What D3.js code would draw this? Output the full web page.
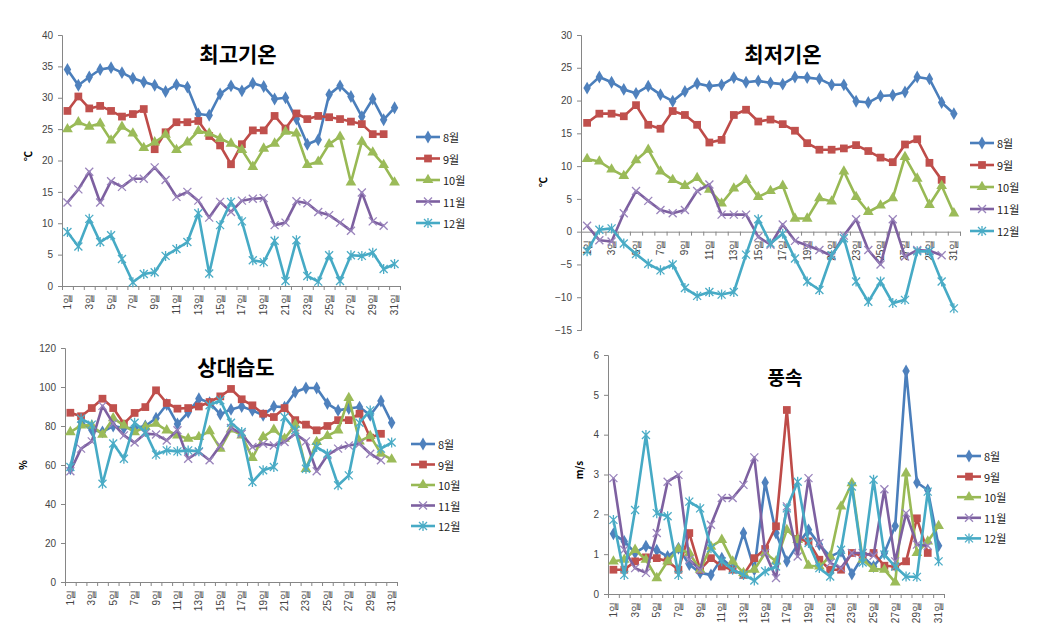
<!DOCTYPE html>
<html><head><meta charset="utf-8">
<script src="https://cdn.jsdelivr.net/npm/d3@7"></script>
<style>
body{margin:0;background:#fff;}
svg{display:block;font-family:"Noto Sans CJK KR","Noto Sans",sans-serif;}
</style></head>
<body><svg id="c" width="1039" height="636"></svg>
<script>
const days = d3.range(1, 32);
const dayLabels = days.map(d => d + "일");
const months = ["8월", "9월", "10월", "11월", "12월"];

// 최고기온
const maxAug = [34.5,32,33.3,34.5,34.8,34,33.1,32.5,32,31,32.1,31.7,27.4,27.2,30.6,31.9,31.1,32.3,31.8,29.8,30,26.6,22.6,23.3,30.5,31.9,30.2,27,29.8,26.5,28.4];
const maxSep = [27.9,30.2,28.3,28.7,27.9,27,27.4,28.2,21.8,24.5,26.1,26.1,26.3,23.9,22.4,19.4,22.6,24.8,24.8,27.1,25.1,27.5,26.6,27.1,26.9,26.6,26.2,25.8,24.2,24.2,null];
const maxOct = [25,26.1,25.4,25.9,23.2,25.4,24.3,22,22.9,24.1,21.7,22.9,24.7,24.3,23.5,22.7,21.7,19,21.9,22.7,24.6,24.3,19.3,19.8,22.6,23.8,16.5,23,21.3,19.3,16.5];
const maxNov = [13.3,15.4,18.2,13.3,16.7,15.8,17.1,17.1,18.9,16.9,14.2,15,13.6,10.9,13.4,11.8,13.6,13.9,14,9.7,10.1,13.5,13.2,11.8,11.3,10.1,8.8,14.9,10.3,9.6,null];
const maxDec = [8.6,6.3,10.7,7,8.1,4.3,0.6,1.9,2.2,4.8,5.9,7,11.6,2,9.7,13.4,10.3,4.1,3.8,7.2,0.8,7.3,1.6,0.7,4.9,0.8,4.9,4.8,5.3,2.7,3.5];

// 최저기온
const minAug = [21.9,23.6,22.8,21.7,21.1,22.2,20.9,19.9,21.4,22.6,22.2,22.4,23.5,22.8,23,22.7,22.5,23.6,23.5,23.3,22.4,22.4,19.9,19.7,20.7,20.8,21.3,23.6,23.3,19.7,18];
const minSep = [16.6,18,18,17.6,19.3,16.3,15.7,18.4,17.8,16.3,13.6,14,17.8,18.6,16.8,17.1,16.4,15.4,13.5,12.5,12.5,12.7,13.2,12.3,11.3,10.6,13.3,14.1,10.5,7.9,null];
const minOct = [11.1,10.7,9.5,8.5,10.9,12.5,9.2,7.9,7,8.2,6.4,4.3,6.6,7.9,5.3,6.2,7,2,2,5.1,4.6,9.2,5.3,3,4,5.1,11.4,8.1,4.1,7,2.8];
const minNov = [0.9,-1.3,-1.5,2.8,6.2,4.7,3.3,2.8,3.3,6.2,7.2,2.6,2.6,2.6,-0.8,-2,1.1,-1.4,-2.1,-2.8,-3.7,-0.6,1.9,-2.8,-5,1.9,-3.8,-2.8,-2.9,-3.6,null];
const minDec = [-3,0.3,0.5,-1.8,-3.4,-4.9,-5.9,-5,-8.6,-9.8,-9.2,-9.6,-9.2,-3.5,1.9,-1.8,-0.3,-4.1,-7.6,-8.9,-3.6,-1,-7.6,-10.7,-7.6,-10.9,-10.4,-3,-3,-7.6,-11.7];

// 상대습도
const humAug = [58,82,78,77,80,79,79,80,84,91,81,87,94,92,86,88.5,90,88,85.5,90,89.7,97.4,99.5,99.5,91.5,88,89,89.7,85.5,92.8,81.7];
const humSep = [86.8,85,89.2,94,89.2,81.2,86.7,89.7,98.3,91.8,88.9,89.2,90,92.3,95.2,99,93.7,90.6,86.3,84.6,89.2,83,80.7,77.8,80,83,83,86.3,74,76,null];
const humOct = [76.9,80.3,80.3,75.6,84,80.3,76.9,79.5,81.2,77.8,75.2,73.5,74.4,77.4,68.4,78.3,75.2,63.6,74.4,78.1,73.5,80.7,58,71.8,74.9,77.8,94.4,72.1,74.9,65.8,62.9];
const humNov = [56.8,68.4,72.1,90.3,81.2,75.2,71.5,76.1,75.6,72.6,77.8,63.2,66.7,62.4,70,79,76,69.2,70.9,70,71.8,76,72.1,56.8,65,68.4,70,70.9,65.8,62.4,null];
const humDec = [59,83.8,80.7,50.4,71,63.2,81.7,76.9,65.3,67.5,67,67.5,67,90.6,93.2,81.7,76.9,51.3,57.3,59,84.6,77.8,58.1,69.2,65.8,49.6,54.7,81.7,88,68.4,71.5];

// 풍속
const windAug = [1.51,1.32,1.03,1.2,1.1,0.94,1.15,0.74,0.53,0.48,0.9,0.65,1.53,0.61,2.8,1.53,0.82,1.24,1.61,1.24,0.94,1.07,0.5,0.94,0.69,1.03,1.71,5.6,2.8,2.61,1.21];
const windSep = [0.61,0.61,0.82,0.92,0.9,0.82,0.61,1.53,0.61,0.9,0.69,0.61,0.48,0.9,1.13,1.7,4.62,1.38,1.32,0.86,0.61,0.61,1.03,0.96,1.03,0.71,0.69,0.82,1.9,1.03,null];
const windOct = [0.82,0.86,1.11,0.86,0.4,0.82,1.13,1.03,0.61,1.19,1.36,0.82,0.53,0.61,1.03,0.82,1.61,1.36,0.71,0.69,0.94,2.2,2.78,0.86,0.63,0.61,0.29,3.03,1.03,1.32,1.71];
const windNov = [2.91,1.11,0.65,0.53,1.53,2.82,2.99,0.86,0.61,1.74,2.41,2.41,2.74,3.43,1.03,0.4,2.2,0.94,2.91,1.28,0.78,0.65,1.03,1.03,0.96,2.63,0.82,2.03,1.24,1.21,null];
const windDec = [1.86,0.48,2.11,3.99,2.03,1.95,0.48,2.32,2.15,1.15,0.82,0.61,0.48,0.34,0.57,0.69,2.15,2.82,1.28,0.65,0.44,1.11,2.7,0.79,2.87,0.99,0.69,0.44,0.43,2.57,0.82];

const lineColors = ["#4A7EBB", "#BE4B48", "#98B954", "#7D60A0", "#46AAC5"];
const markColors = ["#4F81BD", "#C0504D", "#9BBB59", "#9A84BC", "#4BACC6"];
const markers = ["diamond", "square", "triangle", "x", "star"];

const svg = d3.select("#c");
svg.append("rect").attr("width", 1039).attr("height", 636).attr("fill", "#fff");

function drawMarker(g, type, color, cx, cy, s) {
  s = s || 1;
  if (type === "diamond") {
    g.append("path").attr("d", d3.symbol(d3.symbolDiamond, 48 * s)()).attr("transform", `translate(${cx},${cy})`).attr("fill", color);
  } else if (type === "square") {
    g.append("path").attr("d", d3.symbol(d3.symbolSquare, 60 * s)()).attr("transform", `translate(${cx},${cy})`).attr("fill", color);
  } else if (type === "triangle") {
    g.append("path").attr("d", d3.symbol(d3.symbolTriangle, 50 * s)()).attr("transform", `translate(${cx},${cy})`).attr("fill", color);
  } else if (type === "x") {
    g.append("path").attr("d", "M-4,-4L4,4M-4,4L4,-4").attr("transform", `translate(${cx},${cy})`).attr("stroke", color).attr("stroke-width", 1.3).attr("fill", "none");
  } else {
    g.append("path").attr("d", "M-4,-4L4,4M-4,4L4,-4M0,-5L0,5").attr("transform", `translate(${cx},${cy})`).attr("stroke", color).attr("stroke-width", 1.3).attr("fill", "none");
  }
}

function panel(cfg) {
  const g = svg.append("g");
  const y = d3.scaleLinear().domain(cfg.domain).range([cfg.yBot, cfg.yTop]);
  const xb = d3.scaleBand().domain(days).range([cfg.x0, cfg.x1]).padding(0);
  const xl = d3.scaleLinear().domain([0, 31]).range([cfg.x0, cfg.x1]);
  const cx = d => xb(d) + xb.bandwidth() / 2;
  const axisY = y(cfg.xCross);

  // y axis
  const ya = g.append("g").attr("transform", `translate(${cfg.x0},0)`)
    .call(d3.axisLeft(y).tickValues(d3.range(cfg.domain[0], cfg.domain[1] + cfg.step / 2, cfg.step)).tickSize(4).tickPadding(5).tickFormat(d3.format("d")));
  ya.selectAll("line,path").attr("stroke", "#868686");
  ya.selectAll("text").attr("fill", "#444").style("font-size", "10px").style("font-family", "'Liberation Sans','DejaVu Sans',sans-serif");

  // x axis: boundary ticks
  const xa = g.append("g").attr("transform", `translate(0,${axisY})`)
    .call(d3.axisBottom(xl).tickValues(d3.range(0, 32)).tickSize(4).tickFormat(""));
  xa.selectAll("line,path").attr("stroke", "#868686");
  // x labels
  const xlab = g.append("g").attr("transform", `translate(0,${axisY})`)
    .call(d3.axisBottom(xb).tickValues(days.filter(d => d % 2 === 1)).tickSize(0).tickFormat(d => dayLabels[d - 1]));
  xlab.select(".domain").remove();
  xlab.selectAll("text").attr("transform", "rotate(-90)").attr("x", -8).attr("y", 0).attr("dy", "0.35em")
    .style("text-anchor", "end").attr("fill", "#444").style("font-size", "10px");

  // series
  cfg.series.forEach((vals, i) => {
    const pts = days.map((d, k) => ({ d, v: vals[k] })).filter(p => p.v !== null);
    const line = d3.line().x(p => cx(p.d)).y(p => y(p.v));
    g.append("path").datum(pts).attr("d", line).attr("fill", "none")
      .attr("stroke", lineColors[i]).attr("stroke-width", 2.6).attr("stroke-linejoin", "round");
    const mg = g.append("g");
    pts.forEach(p => drawMarker(mg, markers[i], markColors[i], cx(p.d), y(p.v)));
  });

  // title
  g.append("text").attr("x", cfg.title.x).attr("y", cfg.title.y).attr("text-anchor", "middle")
    .attr("dominant-baseline", "central").style("font-size", cfg.title.size + "px").style("font-weight", "bold")
    .attr("fill", "#000").text(cfg.title.text);

  // y label
  g.append("text").attr("transform", `translate(${cfg.yLabel.x},${cfg.yLabel.y}) rotate(-90)`)
    .attr("text-anchor", "middle").attr("dominant-baseline", "central")
    .style("font-size", "10px").style("font-weight", "bold").attr("fill", "#000").text(cfg.yLabel.text);

  // legend
  const lg = g.append("g");
  months.forEach((m, i) => {
    const ly = cfg.legend.y + i * cfg.legend.dy;
    lg.append("line").attr("x1", cfg.legend.x).attr("x2", cfg.legend.x + 24).attr("y1", ly).attr("y2", ly)
      .attr("stroke", lineColors[i]).attr("stroke-width", 2.6);
    drawMarker(lg, markers[i], markColors[i], cfg.legend.x + 12, ly);
    lg.append("text").attr("x", cfg.legend.x + 27).attr("y", ly).attr("dominant-baseline", "central")
      .style("font-size", "11px").attr("fill", "#222").text(m);
  });
}

panel({ x0: 62, x1: 400, yTop: 35, yBot: 286, domain: [0, 40], step: 5, xCross: 0,
  series: [maxAug, maxSep, maxOct, maxNov, maxDec],
  title: { text: "최고기온", x: 238, y: 53, size: 21 },
  yLabel: { text: "℃", x: 27, y: 156 },
  legend: { x: 416, y: 137, dy: 21.5 } });

panel({ x0: 581, x1: 960, yTop: 35, yBot: 330, domain: [-15, 30], step: 5, xCross: 0,
  series: [minAug, minSep, minOct, minNov, minDec],
  title: { text: "최저기온", x: 783, y: 53, size: 21 },
  yLabel: { text: "℃", x: 542, y: 182 },
  legend: { x: 970, y: 143, dy: 22 } });

panel({ x0: 65, x1: 397, yTop: 348, yBot: 582, domain: [0, 120], step: 20, xCross: 0,
  series: [humAug, humSep, humOct, humNov, humDec],
  title: { text: "상대습도", x: 236, y: 366, size: 21 },
  yLabel: { text: "%", x: 22, y: 465 },
  legend: { x: 411, y: 444, dy: 20.5 } });

panel({ x0: 608, x1: 944, yTop: 355, yBot: 594, domain: [0, 6], step: 1, xCross: 0,
  series: [windAug, windSep, windOct, windNov, windDec],
  title: { text: "풍속", x: 785, y: 376, size: 19 },
  yLabel: { text: "m/s", x: 578, y: 470 },
  legend: { x: 957, y: 456, dy: 20.6 } });
</script></body></html>
